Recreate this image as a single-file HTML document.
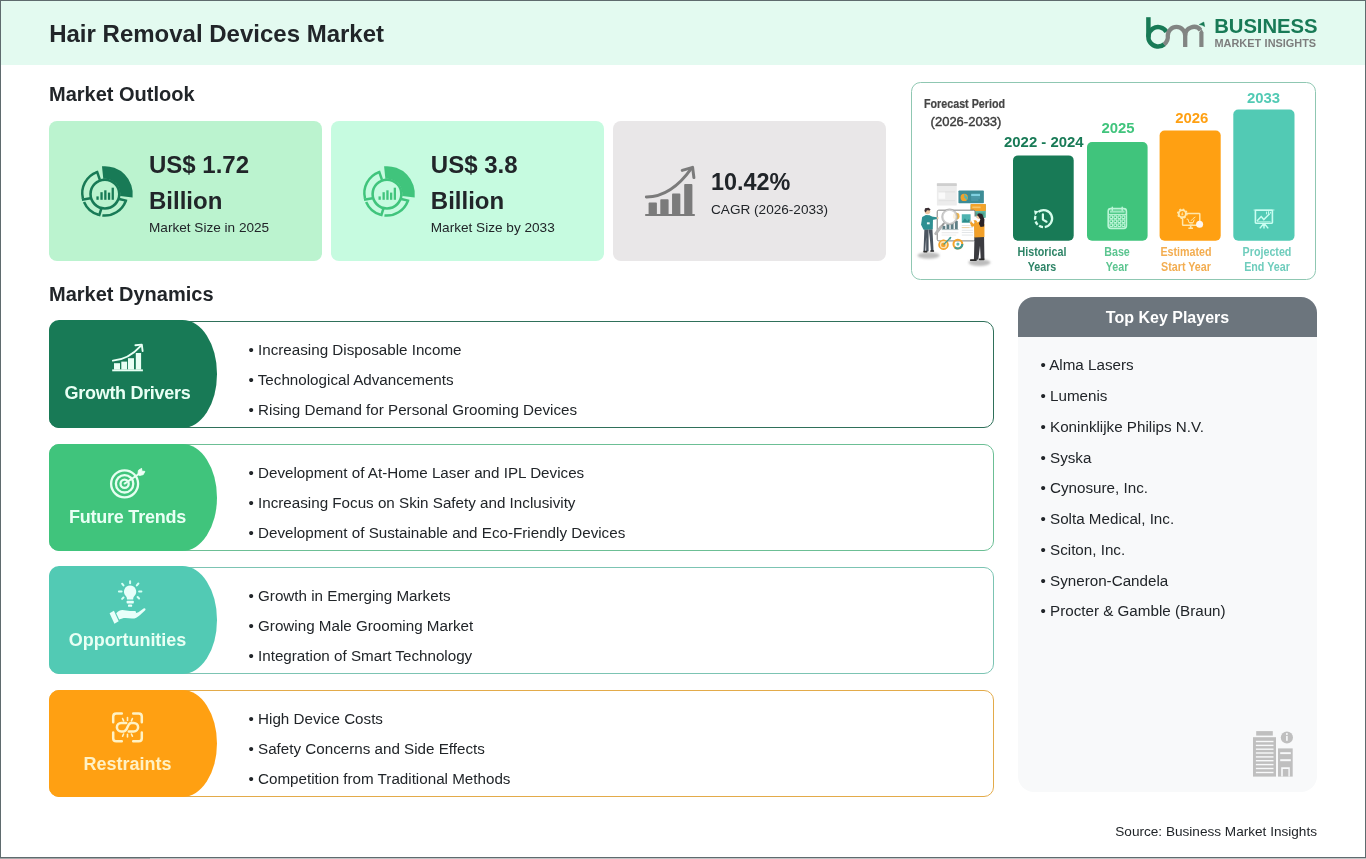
<!DOCTYPE html>
<html>
<head>
<meta charset="utf-8">
<title>Hair Removal Devices Market</title>
<style>
*{box-sizing:border-box;margin:0;padding:0}
html,body{width:1366px;height:859px;overflow:hidden;background:#fff}
body{font-family:"Liberation Sans",sans-serif;color:#212529;position:relative}
.abs{position:absolute}
#frame{position:absolute;left:0;top:0;width:1366px;height:858px;border:1px solid #5f6b6e;pointer-events:none;z-index:50}
#hdr{position:absolute;left:0;top:0;width:1366px;height:65px;background:#e3faf0}
h1{position:absolute;left:49.2px;top:20px;font-size:24px;line-height:28px;font-weight:bold;white-space:nowrap}
.sec{position:absolute;left:49px;font-size:20px;line-height:24px;font-weight:bold;white-space:nowrap}
.card{position:absolute;top:121px;height:140px;border-radius:8px}
.card .big{position:absolute;left:100px;font-size:24px;line-height:36px;font-weight:bold;white-space:nowrap}
.card .sm{position:absolute;left:100px;font-size:13.6px;line-height:20px;white-space:nowrap}
.row{position:absolute;left:49px;width:945px;height:107px;border:1px solid #187a56;border-radius:10px;background:#fff}
.row .lab{position:absolute;left:-1px;top:-1px;width:168px;height:107px;border-radius:10px 34.5px 34.5px 10px / 10px 53.5px 53.5px 10px;color:#e9fff4}
.row .lab span{position:absolute;left:0;width:157px;text-align:center;top:62.6px;font-size:18px;line-height:24px;font-weight:bold;white-space:nowrap}
.row ul{position:absolute;left:198.5px;top:13.2px;list-style:none;font-size:15.2px;line-height:30px;white-space:nowrap}
#kp{position:absolute;left:1018px;top:297px;width:299px;height:495px;border-radius:16px;background:#f8f9fa;overflow:hidden}
#kp .h{position:absolute;left:0;top:0;width:100%;height:40px;background:#6c757d;color:#fff;font-size:16px;font-weight:bold;line-height:40px;padding-top:1.2px;text-align:center}
#kp ul{position:absolute;left:22.5px;top:53.3px;list-style:none;font-size:15.2px;line-height:30.75px;white-space:nowrap}
#src{position:absolute;right:49px;top:821.6px;font-size:13.6px;line-height:20px;white-space:nowrap}
#fc{position:absolute;left:911px;top:82px;width:405px;height:198px;border:1px solid #8fc7b2;border-radius:9.5px;background:#fff}
.bar{position:absolute;border-radius:5px}
.yr{position:absolute;font-size:14.9px;font-weight:bold;line-height:16px;white-space:nowrap;text-align:center}
.bl{position:absolute;font-size:13.4px;font-weight:bold;line-height:15.3px;transform:scaleX(0.80);text-align:center;white-space:nowrap;transform-origin:50% 50%}
</style>
</head>
<body><div id="wrap" style="position:absolute;left:0;top:0;width:1366px;height:859px;will-change:transform">
<div id="hdr"></div>
<h1>Hair Removal Devices Market</h1>

<div class="abs" style="left:1214.2px;top:15.1px;font-size:20.3px;line-height:22px;font-weight:bold;color:#187a56;white-space:nowrap;letter-spacing:-0.05px">BUSINESS</div>
<div class="abs" style="left:1214.5px;top:36.9px;font-size:10.9px;line-height:12px;font-weight:bold;color:#7d7d7d;white-space:nowrap;word-spacing:0.5px">MARKET INSIGHTS</div>
<div class="sec" style="top:81.5px">Market Outlook</div>

<div class="card" style="left:49px;width:273.3px;background:#bbf3cf">
  <div class="big" style="top:25.5px">US$ 1.72</div>
  <div class="big" style="top:61.5px">Billion</div>
  <div class="sm" style="top:96.6px">Market Size in 2025</div>
</div>
<div class="card" style="left:330.8px;width:273.3px;background:#c6fbe0">
  <div class="big" style="top:25.5px">US$ 3.8</div>
  <div class="big" style="top:61.5px">Billion</div>
  <div class="sm" style="top:96.6px">Market Size by 2033</div>
</div>
<div class="card" style="left:613px;width:273px;background:#e9e7e8">
  <div class="big" style="top:43.4px;left:98px;font-size:23.4px">10.42%</div>
  <div class="sm" style="top:78.6px;left:98px">CAGR (2026-2033)</div>
</div>

<div id="fc"></div>
<div class="abs fct" style="left:924.2px;top:93.9px;width:82px"><span style="display:inline-block;font-size:12px;line-height:14px;font-weight:bold;color:#454545;-webkit-text-stroke:0.2px #454545;white-space:nowrap;transform:scaleX(0.893);transform-origin:0 50%">Forecast Period</span></div>
<div class="abs" style="left:930.6px;top:113.8px;font-size:13px;line-height:16px;color:#3c3c3c;white-space:nowrap;-webkit-text-stroke:0.4px #3c3c3c">(2026-2033)</div>
<div class="yr" style="left:993.8px;width:100px;top:133.8px;color:#187a56">2022 - 2024</div>
<div class="yr" style="left:1068px;width:100px;top:120.1px;color:#40c47c">2025</div>
<div class="yr" style="left:1141.8px;width:100px;top:109.6px;color:#ffa012">2026</div>
<div class="yr" style="left:1213.5px;width:100px;top:89.6px;color:#52cab4">2033</div>
<div class="bl" style="left:991.8px;width:100px;top:244.1px;color:#2e8467">Historical<br>Years</div>
<div class="bl" style="left:1067.3px;width:100px;top:244.1px;color:#5cc590">Base<br>Year</div>
<div class="bl" style="left:1136px;width:100px;top:244.1px;color:#f3ad50">Estimated<br>Start Year</div>
<div class="bl" style="left:1216.5px;width:100px;top:244.1px;color:#6fcdbd">Projected<br>End Year</div>


<div class="sec" style="top:281.5px">Market Dynamics</div>

<div class="row" style="top:321px;border-color:#2f705a">
  <div class="lab" style="background:#187a56;top:-2px;height:108px"><span style="top:61.4px;letter-spacing:-0.3px">Growth Drivers</span></div>
  <ul><li>• Increasing Disposable Income</li><li>• Technological Advancements</li><li>• Rising Demand for Personal Grooming Devices</li></ul>
</div>
<div class="row" style="top:444px;border-color:#6cbf95">
  <div class="lab" style="background:#40c47c"><span style="top:61.1px;letter-spacing:-0.24px">Future Trends</span></div>
  <ul><li>• Development of At-Home Laser and IPL Devices</li><li>• Increasing Focus on Skin Safety and Inclusivity</li><li>• Development of Sustainable and Eco-Friendly Devices</li></ul>
</div>
<div class="row" style="top:567px;border-color:#7cc4b3">
  <div class="lab" style="background:#52cab4;top:-2px;height:108px"><span style="top:62.4px;letter-spacing:-0.05px">Opportunities</span></div>
  <ul><li>• Growth in Emerging Markets</li><li>• Growing Male Grooming Market</li><li>• Integration of Smart Technology</li></ul>
</div>
<div class="row" style="top:690px;border-color:#e3ab4a">
  <div class="lab" style="background:#ffa012;top:-1.5px;height:107.5px;color:#fff1c4"><span style="top:62.3px;letter-spacing:0.02px">Restraints</span></div>
  <ul><li>• High Device Costs</li><li>• Safety Concerns and Side Effects</li><li>• Competition from Traditional Methods</li></ul>
</div>

<div id="kp">
  <div class="h">Top Key Players</div>
  <ul>
    <li>• Alma Lasers</li><li>• Lumenis</li><li>• Koninklijke Philips N.V.</li><li>• Syska</li><li>• Cynosure, Inc.</li><li>• Solta Medical, Inc.</li><li>• Sciton, Inc.</li><li>• Syneron-Candela</li><li>• Procter &amp; Gamble (Braun)</li>
  </ul>
</div>

<div id="src">Source: Business Market Insights</div>
<svg id="ov" class="abs" style="left:0;top:0;z-index:10" width="1366" height="859" viewBox="0 0 1366 859">
<defs><g id="donut"><path d="M-2.92 -27.75A27.9 27.9 0 0 1 27.69 3.40L15.19 1.86A15.3 15.3 0 0 0 -1.60 -15.22Z" fill="currentColor"/><circle cx="0" cy="0" r="14.4" fill="none" stroke="currentColor" stroke-width="2.6"/><path d="M20.76 7.10A22.45 22.45 0 0 1 -2.55 21.38" fill="none" stroke="currentColor" stroke-width="2.5"/><path d="M-6.39 20.63A22.45 22.45 0 0 1 -20.87 7.82" fill="none" stroke="currentColor" stroke-width="2.5"/><path d="M-21.98 4.48A22.45 22.45 0 0 1 -7.88 -22.05" fill="none" stroke="currentColor" stroke-width="2.5"/><path d="M14.18 4.88L22.21 6.77" stroke="currentColor" stroke-width="2.5" fill="none"/><path d="M-3.63 14.55L-5.93 22.05" stroke="currentColor" stroke-width="2.5" fill="none"/><path d="M-14.42 4.13L-22.98 5.58" stroke="currentColor" stroke-width="2.5" fill="none"/><path d="M-5.01 -14.14L-8.11 -23.29" stroke="currentColor" stroke-width="2.5" fill="none"/><rect x="-8.5" y="2.3" width="2.3" height="3.4" fill="currentColor"/><rect x="-4.5" y="-1.9" width="2.3" height="7.6" fill="currentColor"/><rect x="-0.7" y="-3.8" width="2.3" height="9.5" fill="currentColor"/><rect x="3.0" y="-1.5" width="2.3" height="7.2" fill="currentColor"/><rect x="6.7" y="-6.4" width="2.3" height="12.1" fill="currentColor"/></g></defs>
<defs><filter id="bl3" x="-30%" y="-60%" width="160%" height="220%"><feGaussianBlur stdDeviation="0.9"/></filter><filter id="bl2" x="-10%" y="-10%" width="120%" height="120%"><feGaussianBlur stdDeviation="0.3"/></filter><filter id="bl" x="-5%" y="-5%" width="110%" height="110%"><feGaussianBlur stdDeviation="0.45"/></filter></defs>
<g filter="url(#bl)">
<ellipse cx="928.59" cy="255.5" rx="11.06" ry="3.32" fill="#bdbdbd" filter="url(#bl3)"/>
<ellipse cx="979.45" cy="262.57" rx="11.06" ry="3.32" fill="#bdbdbd" filter="url(#bl3)"/>
<rect x="936.88" y="183.29" width="19.9" height="22.11" rx="0.5" fill="#ececec" />
<rect x="936.88" y="183.29" width="19.9" height="2.76" rx="0.5" fill="#cfcfcf" />
<rect x="938.54" y="191.59" width="6.63" height="7.19" rx="0" fill="#fafafa" />
<rect x="938.54" y="191.59" width="16.59" height="0.66" rx="0" fill="#d8d8d8" />
<rect x="938.54" y="200.43" width="16.59" height="0.66" rx="0" fill="#dcdcdc" />
<rect x="958.44" y="190.48" width="25.43" height="12.72" rx="0.8" fill="#3d8c96" />
<circle cx="964.19" cy="197.45" r="3.65" fill="#f0a12c" />
<path d="M964.19 197.45L964.19 193.8L967.84 197.45L966.73 200.21Z" fill="#56b7b0" />
<rect x="971.16" y="193.8" width="8.85" height="2.43" rx="0" fill="#7fd0e0" />
<rect x="971.16" y="197.45" width="8.85" height="1.0" rx="0" fill="#5aa5b8" />
<rect x="971.16" y="199.55" width="7.19" height="0.88" rx="0" fill="#5aa5b8" />
<rect x="970.6" y="203.97" width="15.26" height="13.93" rx="0.8" fill="#63b8a6" />
<rect x="970.6" y="203.97" width="15.26" height="6.97" rx="0.8" fill="#f3a32b" />
<rect x="972.26" y="206.51" width="8.29" height="1.66" rx="0" fill="#f9c66a" />
<rect x="972.26" y="212.59" width="12.16" height="3.54" rx="0" fill="#4aa38f" />
<rect x="937.21" y="210.16" width="37.82" height="30.74" rx="1.6" fill="#ffffff" stroke="#787878" stroke-width="0.95"/>
<rect x="942.41" y="225.86" width="2.87" height="3.32" rx="0" fill="#5f7f86" />
<rect x="946.5" y="224.2" width="2.87" height="4.98" rx="0" fill="#5f7f86" />
<rect x="950.7" y="223.1" width="2.87" height="6.08" rx="0" fill="#5f7f86" />
<rect x="954.9" y="220.89" width="2.87" height="8.29" rx="0" fill="#5f7f86" />
<rect x="941.63" y="229.4" width="16.81" height="0.66" rx="0" fill="#8fa3a6" />
<rect x="941.63" y="232.5" width="16.81" height="0.66" rx="0" fill="#d9d9d9" />
<rect x="941.63" y="234.71" width="14.6" height="0.66" rx="0" fill="#e3e3e3" />
<rect x="961.76" y="214.25" width="8.85" height="8.29" rx="0" fill="#4fb3b0" />
<path d="M961.76 222.55L964.85 218.34L967.29 220.89L968.94 219.01L970.6 222.55Z" fill="#2f8c8c" />
<rect x="961.76" y="224.98" width="11.28" height="0.66" rx="0" fill="#d5d9dc" />
<rect x="961.76" y="227.41" width="11.28" height="0.66" rx="0" fill="#d5d9dc" />
<rect x="961.76" y="229.84" width="11.28" height="0.66" rx="0" fill="#d5d9dc" />
<rect x="961.76" y="232.28" width="11.28" height="0.66" rx="0" fill="#d5d9dc" />
<rect x="961.76" y="234.71" width="11.28" height="0.66" rx="0" fill="#d5d9dc" />
<rect x="961.76" y="227.41" width="7.74" height="0.66" rx="0" fill="#f3c57c" />
<circle cx="956.23" cy="216.13" r="3.32" fill="#f2b544" />
<path d="M943.73 223.65L935.77 233.6" fill="none" stroke="#9a9a9a" stroke-width="2.1" stroke-linecap="round"/>
<path d="M940.97 226.97L935.77 233.6" fill="none" stroke="#b5b5b5" stroke-width="2.9" stroke-linecap="round"/>
<circle cx="949.59" cy="216.8" r="6.86" fill="#ffffff" fill-opacity="0.82" stroke="#cfcfcf" stroke-width="1.5"/>
<circle cx="949.59" cy="216.8" r="7.85" fill="none" stroke="#a3a3a3" stroke-width="0.7"/>
<circle cx="943.51" cy="244.66" r="5.2" fill="#fbe2b5" />
<circle cx="943.51" cy="244.66" r="4.42" fill="none" stroke="#f3a32b" stroke-width="1.6"/>
<circle cx="943.29" cy="244.88" r="2.21" fill="#f3a32b" />
<path d="M944.07 244.11L950.7 237.47" fill="none" stroke="#3f9c93" stroke-width="1.3" stroke-linecap="round"/>
<path d="M948.49 238.03L950.92 236.92L950.48 239.68Z" fill="#3f9c93" />
<circle cx="957.89" cy="244.11" r="4.42" fill="none" stroke="#f3a32b" stroke-width="2"/>
<path d="M962.31 244.11A4.42 4.42 0 0 1 954.79 247.2" fill="none" stroke="#3f9c93" stroke-width="2.1"/>
<circle cx="957.89" cy="244.11" r="1.55" fill="#5fb9b0" />
<path d="M924.38 229.18L928.59 229.18L928.59 251.29L926.15 251.29L926.15 236.92L925.27 251.29L923.5 251.29Z" fill="#4b5560" />
<path d="M928.59 229.18L932.46 229.18L933.56 251.29L931.02 251.29L929.69 236.92Z" fill="#4b5560" />
<rect x="923.28" y="250.74" width="4.2" height="1.66" rx="0.6" fill="#2b2b2b" />
<rect x="930.24" y="250.19" width="3.87" height="1.66" rx="0.6" fill="#2b2b2b" />
<path d="M922.17 217.02L925.82 215.03L929.69 215.36L933.01 217.57L932.79 229.18L923.61 229.73L921.07 224.76Z" fill="#2f8f92" />
<path d="M929.69 216.13L936.88 217.24L937.21 219.01L930.8 220.33Z" fill="#2f8f92" />
<circle cx="937.65" cy="217.9" r="1.0" fill="#f1c6a0" />
<rect x="926.93" y="222.32" width="2.76" height="1.99" rx="0" fill="#e8f6f6" />
<circle cx="927.48" cy="211.49" r="2.76" fill="#f1c6a0" />
<path d="M924.38 210.94L925.05 208.17L928.59 207.73L930.58 209.5L929.69 210.6L926.93 210.16L925.82 212.59Z" fill="#3a2f33" />
<path d="M974.47 236.92L984.09 236.92L984.42 259.59L980.77 259.59L980.0 245.77L978.34 259.59L973.92 260.14Z" fill="#3a3b40" />
<rect x="970.05" y="259.25" width="6.63" height="1.77" rx="0.6" fill="#2a2a2a" />
<rect x="978.9" y="258.48" width="5.53" height="1.66" rx="0.6" fill="#2a2a2a" />
<path d="M973.92 223.65L979.45 221.44L984.42 224.2L984.42 236.92L974.47 237.47Z" fill="#f2a02a" />
<path d="M976.68 225.31L971.71 226.97L969.72 222.55L971.16 221.44L973.37 223.65L977.24 222.55Z" fill="#f2a02a" />
<path d="M975.58 223.65L973.03 219.23L974.47 218.34L977.46 221.99Z" fill="#f2a02a" />
<circle cx="970.6" cy="221.44" r="1.0" fill="#f1c6a0" />
<rect x="971.71" y="216.46" width="4.98" height="3.87" rx="0.5" fill="#fdfdfd" />
<circle cx="978.9" cy="216.46" r="2.43" fill="#f1c6a0" />
<path d="M976.68 215.03L978.9 213.15L982.21 213.92L984.42 219.23L984.09 226.42L980.55 226.97L978.9 223.65L980.33 219.23L978.34 216.13Z" fill="#2b2326" />
</g>
<use href="#donut" x="104.9" y="194.1" style="color:#187a56"/>
<use href="#donut" x="387.0" y="194.1" style="color:#40c47c"/>
<g transform="translate(638,158)" fill="#7b7b7b"><rect x="7.2" y="56" width="49.6" height="2"/><rect x="10.6" y="44.6" width="8.3" height="12" rx="0.8"/><rect x="22.3" y="41.2" width="8.3" height="15.4" rx="0.8"/><rect x="34.05" y="35.6" width="8.3" height="21" rx="0.8"/><rect x="46.2" y="26.1" width="8.2" height="30.5" rx="0.8"/><path d="M8.3 39Q33 39.2 53.6 10.2" fill="none" stroke="#7b7b7b" stroke-width="2.9" stroke-linecap="round"/><path d="M44.2 12.4L54.6 9.4L55.9 19.6" fill="none" stroke="#7b7b7b" stroke-width="3" stroke-linecap="round" stroke-linejoin="round"/></g>
<g fill="none" stroke-width="4.5"><path d="M1148.4 17.2V36.8" stroke="#187a56"/><path d="M1164.34 44.23A9.7 9.7 0 1 1 1166.50 31.95" stroke="#187a56"/><path d="M1164.07 44.44A9.7 9.7 0 0 0 1167.8 35.6A8.7 8.7 0 0 1 1185.2 35.6V46.9" stroke="#828583" stroke-width="4.3"/><path d="M1185.2 35.6A8.7 8.7 0 0 1 1200.56 30.01" stroke="#828583" stroke-width="4.3"/></g>
<path d="M1199.3 46.9V32.6L1201.5 28.8L1203.5 32.6V46.9Z" fill="#828583"/>
<path d="M1199.3 24.5L1203.8 22.1L1204.6 26.5L1202.4 25.2Z" fill="#187a56" stroke="#187a56" stroke-width="0.6" stroke-linejoin="round"/>
<rect x="1013" y="155.4" width="60.7" height="85.4" rx="5" fill="#187a56"/>
<rect x="1087" y="142" width="60.6" height="98.8" rx="5" fill="#40c47c"/>
<rect x="1159.6" y="130.5" width="61.1" height="110.3" rx="5" fill="#ffa012"/>
<rect x="1233.3" y="109.5" width="61.2" height="131.3" rx="5" fill="#52cab4"/>
<g fill="none" stroke="#d6fdec" stroke-width="2.3"><path d="M1038.37 211.90A8.5 8.5 0 1 1 1044.78 227.02"/><path d="M1043.01 227.08A8.5 8.5 0 0 1 1039.10 225.81"/><path d="M1037.70 224.71A8.5 8.5 0 0 1 1035.61 221.51"/><path d="M1035.18 219.78A8.5 8.5 0 0 1 1035.52 215.97"/><path d="M1042.8999999999999 214.29999999999998V219.6L1046.5 221.7" stroke-width="2.2" stroke-linecap="round" stroke-linejoin="round"/></g>
<path d="M1034.0 210.6L1038.8 211.2L1035.0 215.2Z" fill="#d6fdec"/>
<g fill="none" stroke="#c2f8dc" stroke-width="1.6" opacity="0.95" filter="url(#bl2)"><rect x="1108.2" y="208.6" width="18.2" height="19.8" rx="2.6"/><path d="M1108.2 214.4H1126.4" stroke-width="1.1"/><path d="M1110 211.6H1124.6" stroke-width="2.2" opacity="0.75"/><path d="M1112.3 207.2V210.3M1122.2 207.2V210.3" stroke-width="1.5" stroke-linecap="round"/></g>
<g fill="none" stroke="#c2f8dc" stroke-width="1.15" opacity="0.95" filter="url(#bl2)"><rect x="1109.90" y="215.90" width="2.7" height="2.6" rx="0.4"/><rect x="1113.95" y="215.90" width="2.7" height="2.6" rx="0.4"/><rect x="1118.00" y="215.90" width="2.7" height="2.6" rx="0.4"/><rect x="1122.05" y="215.90" width="2.7" height="2.6" rx="0.4"/><rect x="1109.90" y="219.90" width="2.7" height="2.6" rx="0.4"/><rect x="1113.95" y="219.90" width="2.7" height="2.6" rx="0.4"/><rect x="1118.00" y="219.90" width="2.7" height="2.6" rx="0.4"/><rect x="1122.05" y="219.90" width="2.7" height="2.6" rx="0.4"/><rect x="1109.90" y="223.90" width="2.7" height="2.6" rx="0.4"/><rect x="1113.95" y="223.90" width="2.7" height="2.6" rx="0.4"/><rect x="1118.00" y="223.90" width="2.7" height="2.6" rx="0.4"/><rect x="1122.05" y="223.90" width="2.7" height="2.6" rx="0.4"/></g>
<g fill="none" stroke="#ffe9b0" stroke-width="1.5" opacity="0.97" filter="url(#bl2)"><rect x="1182.6" y="213.5" width="17.2" height="11.8" rx="0.6"/><path d="M1188.4 228.2H1193M1190.7 225.4V228" stroke-width="1.6"/><path d="M1186.6 219.2H1188L1189 222.6H1193.2L1194.2 219.6M1189.6 224H1192.8M1191 220.8L1193 218.6L1195.4 217" stroke-width="1"/></g>
<circle cx="1182.3" cy="213.7" r="3.6" fill="#ffa012" stroke="#ffe9ae" stroke-width="1.9"/>
<circle cx="1182.3" cy="213.7" r="4.7" fill="none" stroke="#ffe9ae" stroke-width="1.3" stroke-dasharray="1.6 2.09"/>
<path d="M1182.3 211.6L1183.5 215.2H1181.1Z" fill="#ffe9ae" opacity="0.8"/>
<circle cx="1199.6" cy="224.3" r="3.5" fill="#fff6ee"/>
<g fill="none" stroke="#cdfff3" stroke-width="1.6" opacity="0.97" filter="url(#bl2)"><rect x="1255.4" y="210.2" width="17" height="13" rx="0.6"/><path d="M1253.6 210H1274.4" stroke-width="1.2" opacity="0.7"/><path d="M1257 221L1261.2 216.6L1263.8 219.6L1269.6 213.8" stroke-width="1.5"/><path d="M1266.6 211.6V214.4M1268.6 211.2V214.2M1270.6 211.8V213.6" stroke-width="1"/><path d="M1257 221.6H1270.6" stroke-width="0.9" opacity="0.7"/><path d="M1264 223.4V228.4M1263.4 224L1259.8 228.4M1264.6 224L1268.2 228.4" stroke-width="1.5"/></g>
<g fill="#e9fff4"><rect x="112.2" y="369.4" width="30.7" height="1.9"/><rect x="114" y="363.2" width="6" height="6.4"/><rect x="121.3" y="361.6" width="5.8" height="8"/><rect x="128" y="358.2" width="6" height="11.4"/><rect x="135.8" y="353" width="5.3" height="16.6"/><path d="M112.9 360.6Q128 360 140.6 346.2" fill="none" stroke="#e9fff4" stroke-width="1.9" stroke-linecap="round"/><path d="M135.4 345.2L141.8 344.6L142.6 351" fill="none" stroke="#e9fff4" stroke-width="1.9" stroke-linecap="round" stroke-linejoin="round"/></g>
<g fill="none" stroke="#e6fff1" stroke-width="2.3"><circle cx="124.6" cy="483.8" r="13.5"/><circle cx="124.6" cy="483.8" r="8.7"/><circle cx="124.6" cy="483.8" r="4.1"/><path d="M124.6 483.6L140.4 473" stroke-width="1.9" stroke-linecap="round"/></g>
<path d="M138 474.4L138.4 470.4L141.6 468.4L141.8 471.2L144.8 471.4L143.2 474.6L139.6 475.4Z" fill="#effff6" stroke="#effff6" stroke-width="1" stroke-linejoin="round"/>
<g fill="#e8fffa"><path d="M130.1 585.5a6.1 6.1 0 0 1 4.3 10.4c-0.9 1-1.2 2-1.2 3.6h-6.2c0-1.6-0.3-2.6-1.2-3.6a6.1 6.1 0 0 1 4.3-10.4z"/><rect x="126.6" y="600.7" width="7.2" height="2.8" rx="0.8"/><rect x="128" y="604.6" width="4.2" height="2.2" rx="0.9"/><path d="M109.6 613.2L113.9 610.8L118.7 621.2L114.4 623.7Z"/><path d="M116.2 613.2C118.5 610.9 120.5 610 122.5 610.1C125 610.2 127.5 610.9 130 610.9L134.6 611.1C136.2 611.3 136.6 612.6 135.6 613.2L138.4 612.2L143.6 608.6C145 607.8 146.2 609.2 145.2 610.3L139.8 615.2C137.6 617.2 135 618.7 132 618.6L125.6 618C123.4 617.9 121.4 618.6 119.2 619.6Z"/></g>
<g stroke="#d6fff5" stroke-width="2" stroke-linecap="round" fill="none"><path d="M130.1 581.2V583.2M122.1 583.7L123.5 585.4M136.8 585.4L138.4 583.5M118.9 591.4H121.6M139.1 591.4H141.4M122.1 598.9L123.5 597.5M137.6 597L139.1 598.5"/></g>
<g fill="none" stroke="#fff2c4" stroke-width="2.5" stroke-linecap="round" stroke-linejoin="round"><path d="M113.2 722.2V716.6Q113.2 713.5 116.3 713.5H121.8"/><path d="M133.2 713.5H138.7Q141.8 713.5 141.8 716.6V722.2"/><path d="M141.8 732.6V738.2Q141.8 741.3 138.7 741.3H133.2"/><path d="M121.8 741.3H116.3Q113.2 741.3 113.2 738.2V732.6"/><path d="M126.2 722.9H121.2A4.3 4.3 0 0 0 121.2 731.5H123.6C128.4 731.5 126.6 722.9 131.4 722.9H133.8A4.3 4.3 0 0 1 133.8 731.5H128.8"/></g>
<g stroke="#fff2c4" stroke-width="1.6" stroke-linecap="round" fill="none"><path d="M127.5 717.6V720.4M122.6 718.6L123.6 720.8M132.4 718.6L131.4 720.8M127.5 734.2V737M122.6 736.2L123.6 734M132.4 736.2L131.4 734"/></g>
<g fill="#bfbfbf"><rect x="1256.2" y="731.1" width="16.6" height="4.5"/><rect x="1253" y="737.2" width="23" height="39.4"/><rect x="1278" y="748.4" width="14.7" height="28.2"/><circle cx="1286.9" cy="737.5" r="6.1"/></g><g fill="#f8f9fa"><rect x="1255.9" y="740.8" width="17.6" height="1.4"/><rect x="1255.9" y="744.7" width="17.6" height="1.4"/><rect x="1255.9" y="748.5" width="17.6" height="1.4"/><rect x="1255.9" y="752.3" width="17.6" height="1.4"/><rect x="1255.9" y="756.2" width="17.6" height="1.4"/><rect x="1255.9" y="760.0" width="17.6" height="1.4"/><rect x="1255.9" y="763.9" width="17.6" height="1.4"/><rect x="1255.9" y="767.8" width="17.6" height="1.4"/><rect x="1255.9" y="771.8" width="17.6" height="1.4"/><rect x="1280.2" y="752.2" width="10.6" height="1.9"/><rect x="1280.2" y="759.2" width="10.6" height="2"/><path d="M1281.2 776.6V767.3H1289.8V776.6H1288.4V768.9H1282.8V776.6Z"/><rect x="1286.1" y="735.9" width="1.6" height="4.9"/><circle cx="1286.9" cy="733.9" r="1"/></g>
</svg>
<div id="frame"></div>
<div class="abs" style="left:0;top:858px;width:1366px;height:1px;background:#c2c5c6;z-index:51"></div><div class="abs" style="left:0;top:858px;width:150px;height:1px;background:#a4a8a9;z-index:52"></div>
</div></body>
</html>
